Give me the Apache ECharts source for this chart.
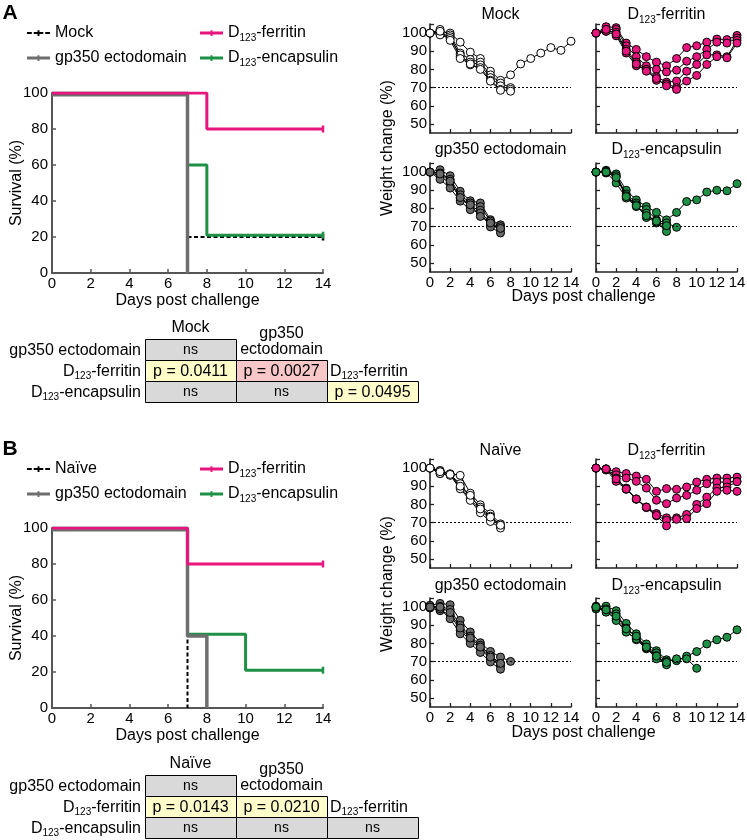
<!DOCTYPE html>
<html><head><meta charset="utf-8">
<script src="https://cdn.jsdelivr.net/npm/echarts@6/dist/echarts.min.js"></script>
<style>html,body{margin:0;padding:0;background:#fff}#c{width:747px;height:840px}</style>
</head><body><div id="c"></div>
<script>
const FONT = '"Liberation Sans", Arial, Helvetica, sans-serif';
const C_PINK = '#E8157F', C_GREEN = '#1F9146', C_GRAY = '#6E6E6E', C_BLACK = '#000';

// ---------- Survival (day, % survival) ----------
const survA_mock = [[0,100],[7,20],[14,20]];
const survA_gp350 = [[0,99],[7,0]];
const survA_ferritin = [[0,100],[8,80],[14,80]];
const survA_encaps = [[0,100],[7,60],[8,21],[14,21]];
const survB_naive = [[0,100],[7,0]];
const survB_gp350 = [[0,99],[7,40],[8,0]];
const survB_ferritin = [[0,100],[7,80],[14,80]];
const survB_encaps = [[0,100],[7,41],[10,21],[14,21]];

// ---------- Weight change (%), one array per mouse, index = day ----------
const wA_mock = [
 [100,101,100,95,89.5,86,79,74,77,83,86,89,92,90.5,95.5],
 [100,102,99,89,85.5,84,77,72.5,70],
 [100,100,98,87,84,82.5,75.5,71,69],
 [100,99,97,88,82.5,81,74,69,68],
 [100,101,96,86,83,80,73.5,68.5]
];
const wA_ferritin = [
 [100,103.5,103,94.5,91,87,84,82,86,92,93,95,96.7,96.4,98.7],
 [100,102,102,93,87,82,80,78.6,79.6,84.5,87,91,95,94.5,97.3],
 [100,101,100.5,91,84,80,76,73,73.6,79,82.7,88,88,87,96],
 [100,101,98.5,89,82,80,74,72,70,73.6,76.7,82.7,87,86.4,94.5],
 [100,102,99.5,90,83,79,75,71,69]
];
const wA_gp350 = [
 [100,101.3,98,89.4,84.2,83,73.8,71],
 [100,99.5,96,87.5,83,81,73,70],
 [100,97.6,94,85.7,81,79,71,68.3],
 [100,96,91.2,84,79.3,77.5,69.8,66.5],
 [100,99,95,86,82,75.6,72,69]
];
const wA_encaps = [
 [100,101,99,90,84.7,81,77.8,73.7,77.8,83.8,84.7,89,90,89.7,93.6],
 [100,99.5,97.6,88,83,79.4,73.7,72,69.6],
 [100,100,94,85.7,81,77.4,72,69.6],
 [100,100.5,98,87,82,75,72.5,67.3],
 [100,100,97,86.5,81.5,76,73,70.5]
];
const wB_naive = [
 [100,98.7,96.9,96,86.2,79.8,74.8,69.3],
 [100,98.5,96.5,91.4,84,78.5,73.5,68.5],
 [100,97,96.3,89.5,83,76.7,72,68],
 [100,97,96,88.6,82.2,75.4,70.6,67],
 [100,98,96.5,90,85,77.5,73,68.5]
];
const wB_ferritin = [
 [100,99.6,98,97,95.6,93.8,87.2,88.7,88.3,89.6,92.3,93.8,94.5,94.5,95],
 [100,99,96.3,94.5,92.7,89,82.3,80.4,83.5,85,87.8,91.4,92.3,92.3,92.7],
 [100,99.5,94.5,89,83,78.6,75,72.6,72.6,74.5,80,84,89,89.6,92.5],
 [100,99,92.7,88.3,82.8,78.2,73.7,71.3,71.8,72.2,77.7,80.4,87.2,87.8,87.2],
 [100,99.5,94,88.5,83,78.5,74,68.2]
];
const wB_gp350 = [
 [101,102,101.3,92.7,86.3,80.4,75.6,72.5,70.1],
 [100,100.4,98.7,90,84,79,73.4,68.9],
 [99.5,98,95.8,87.2,81.7,77,71.6,67.6],
 [100,99,93.6,85.3,80,75,69.8,65.8],
 [100,100,97,88.5,83,78,72.5,69]
];
const wB_encaps = [
 [100.5,100.5,98,91,85.3,79.7,76,71,70.5,73,75.5,79.7,82,83.4,87.5],
 [99,98.2,96.3,88.4,83.4,77.9,74.8,70,71.5,71.5,66.3],
 [100,97.2,93.5,87,82,77,73.3,68.2],
 [100,99,92.6,86.2,82.5,77.5,71.5,70],
 [100,98.5,95,88,84,78,73,69.5]
];

// ---------- Tables ----------
const tableA_cols = ['Mock', 'gp350\nectodomain', 'D{sub|123}-ferritin'];
const tableA_rows = ['gp350 ectodomain', 'D{sub|123}-ferritin', 'D{sub|123}-encapsulin'];
const tableA_cells = [['ns', null, null], ['p = 0.0411', 'p = 0.0027', null], ['ns', 'ns', 'p = 0.0495']];
const tableB_cols = ['Naïve', 'gp350\nectodomain', 'D{sub|123}-ferritin'];
const tableB_rows = ['gp350 ectodomain', 'D{sub|123}-ferritin', 'D{sub|123}-encapsulin'];
const tableB_cells = [['ns', null, null], ['p = 0.0143', 'p = 0.0210', null], ['ns', 'ns', 'ns']];

const RICH = { sub: { fontSize: 10, fontFamily: FONT, verticalAlign: 'bottom', lineHeight: 10, fill: '#000', color: '#000' } };
const sub = s => s.replace('D123', 'D{sub|123}');

const ICON_SOLID = 'path://M0,2.5H24V5.5H0Z M11,1H13V7H11Z';
const ICON_DASH = 'path://M0,3H5V5H0Z M7,3H11V5H7Z M11,1H13V7H11Z M13,3H17V5H13Z M19,3H24V5H19Z';

const grids = [], xAxes = [], yAxes = [], series = [];
function addSurvGrid(top) {
  const gi = grids.length;
  grids.push({left: 52, top: top, width: 271, height: 180, outerBoundsMode: 'none'});
  xAxes.push({gridIndex: gi, type: 'value', min: 0, max: 14, interval: 2,
    axisLine: {onZero: false, lineStyle: {color: '#555', width: 2}},
    axisTick: {inside: true, length: 4, lineStyle: {color: '#555', width: 1.5}},
    axisLabel: {fontSize: 15, fontFamily: FONT, color: '#000', margin: 3},
    splitLine: {show: false},
    name: 'Days post challenge', nameLocation: 'middle', nameGap: 20, nameMoveOverlap: false,
    nameTextStyle: {fontSize: 16, fontFamily: FONT, color: '#000', verticalAlign: 'top'}});
  yAxes.push({gridIndex: gi, type: 'value', min: 0, max: 100, interval: 20,
    axisLine: {onZero: false, lineStyle: {color: '#555', width: 2}},
    axisTick: {inside: true, length: 4, lineStyle: {color: '#555', width: 1.5}},
    axisLabel: {fontSize: 15, fontFamily: FONT, color: '#000', margin: 4},
    splitLine: {show: false},
    name: 'Survival (%)', nameLocation: 'middle', nameGap: 27, nameMoveOverlap: false,
    nameTextStyle: {fontSize: 16, fontFamily: FONT, color: '#000'}});
  return gi;
}
function addWeightGrid(left, top, showX, showY) {
  const gi = grids.length;
  grids.push({left: left, top: top, width: 141, height: 109, outerBoundsMode: 'none'});
  xAxes.push({gridIndex: gi, type: 'value', min: 0, max: 14, interval: 2,
    axisLine: {onZero: false, lineStyle: {color: '#222', width: 1.6}},
    axisTick: {inside: true, length: 4, lineStyle: {color: '#222', width: 1.3}},
    axisLabel: {show: showX, fontSize: 15, fontFamily: FONT, color: '#000', margin: 3},
    splitLine: {show: false}});
  yAxes.push({gridIndex: gi, type: 'value', min: 45, max: 105, interval: 5,
    axisLine: {onZero: false, lineStyle: {color: '#222', width: 1.6}},
    axisTick: {inside: true, length: 4, lineStyle: {color: '#222', width: 1.3},
      customValues: [50, 60, 70, 80, 90, 100, 105]},
    axisLabel: {show: showY, fontSize: 15, fontFamily: FONT, color: '#000', margin: 3,
      customValues: [50, 60, 70, 80, 90, 100]},
    splitLine: {show: false}});
  return gi;
}
function survSeries(gi, name, data, color, width, dashed, z) {
  series.push({type: 'line', name: name, xAxisIndex: gi, yAxisIndex: gi, step: 'end',
    data: data.map((p, i) => (i === data.length - 1 && p[1] > 0)
      ? {value: p, symbol: 'rect', symbolSize: [2.5, 7]} : {value: p, symbol: 'none'}),
    showSymbol: true, symbol: 'none',
    lineStyle: {color: color, width: width, type: dashed ? [4, 2.5] : 'solid', cap: 'butt'},
    itemStyle: {color: color, borderWidth: 0},
    color: color, z: z, animation: false, silent: true});
}
function weightSeries(gi, tag, mice, fill) {
  mice.forEach((m, k) => {
    series.push({type: 'line', name: tag + k, xAxisIndex: gi, yAxisIndex: gi,
      data: m.map((v, d) => [d, v]),
      symbol: 'circle', symbolSize: 8, showSymbol: true,
      lineStyle: {color: '#000', width: 1},
      itemStyle: {color: fill, borderColor: '#000', borderWidth: 1},
      markLine: k === 0 ? {silent: true, symbol: 'none', label: {show: false},
        lineStyle: {type: [2, 2], color: '#000', width: 1}, data: [{yAxis: 70}]} : undefined,
      z: 3 + k, animation: false, silent: true});
  });
}

function panel(dy, lbls, sv, wt) {
  const gs = addSurvGrid(93 + dy);
  survSeries(gs, lbls[0], sv[0], C_BLACK, 2, true, 2);
  survSeries(gs, 'D123-encapsulin', sv[3], C_GREEN, 3, false, 3);
  survSeries(gs, 'gp350 ectodomain', sv[1], C_GRAY, 3.5, false, 4);
  survSeries(gs, 'D123-ferritin', sv[2], C_PINK, 3, false, 5);
  const g1 = addWeightGrid(430, 24 + dy, false, true);
  const g2 = addWeightGrid(596, 24 + dy, false, false);
  const g3 = addWeightGrid(430, 163 + dy, true, true);
  const g4 = addWeightGrid(596, 163 + dy, true, false);
  weightSeries(g1, lbls[0] + 'w', wt[0], '#fff');
  weightSeries(g2, 'ferw', wt[1], C_PINK);
  weightSeries(g3, 'gpw', wt[2], '#6A6A6A');
  weightSeries(g4, 'encw', wt[3], C_GREEN);
}
panel(0, ['Mock'], [survA_mock, survA_gp350, survA_ferritin, survA_encaps], [wA_mock, wA_ferritin, wA_gp350, wA_encaps]);
panel(435, ['Naïve'], [survB_naive, survB_gp350, survB_ferritin, survB_encaps], [wB_naive, wB_ferritin, wB_gp350, wB_encaps]);

function legendPair(left, top, names, icons) {
  return {data: names.map((n, i) => ({name: n, icon: icons[i]})), orient: 'vertical', left: left, top: top,
    itemWidth: 23, itemHeight: 8, itemGap: 5, selectedMode: false, padding: 0,
    itemStyle: {borderWidth: 0},
    formatter: n => sub(n),
    textStyle: {fontSize: 16, fontFamily: FONT, color: '#000', lineHeight: 20, rich: RICH}};
}
const legends = [
  legendPair(27, 23, ['Mock', 'gp350 ectodomain'], [ICON_DASH, ICON_SOLID]),
  legendPair(200, 23, ['D123-ferritin', 'D123-encapsulin'], [ICON_SOLID, ICON_SOLID]),
  legendPair(27, 459, ['Naïve', 'gp350 ectodomain'], [ICON_DASH, ICON_SOLID]),
  legendPair(200, 459, ['D123-ferritin', 'D123-encapsulin'], [ICON_SOLID, ICON_SOLID])
];

// ---------- graphics: labels, titles, tables ----------
const graphic = [];
function txt(x, y, text, opt) {
  opt = opt || {};
  graphic.push({type: 'text', x: x, y: y, rotation: opt.rot || 0, z: 10, silent: true,
    style: {text: text, fill: '#000', fontSize: opt.size || 16, fontFamily: FONT,
      fontWeight: opt.bold ? 'bold' : 'normal', align: opt.align || 'center',
      verticalAlign: 'middle', lineHeight: opt.lh || 20, rich: RICH}});
}
function panelText(dy, letter, t1) {
  txt(10, 13 + dy, letter, {bold: true, size: 21});
  txt(500.5, 15 + dy, t1);
  txt(666.5, 15 + dy, 'D{sub|123}-ferritin');
  txt(500.5, 150 + dy, 'gp350 ectodomain');
  txt(666.5, 150 + dy, 'D{sub|123}-encapsulin');
  txt(388, 148 + dy, 'Weight change (%)', {rot: Math.PI / 2});
  txt(583.5, 297 + dy, 'Days post challenge');
}
panelText(0, 'A', 'Mock');
panelText(436, 'B', 'Naïve');

function cellColor(s) {
  if (s === 'ns') return '#D9D9D9';
  const p = parseFloat(s.split('=')[1]);
  return p < 0.01 ? '#F8C8C8' : '#FFFECB';
}
function table(x0, y0, cols, rows, cells) {
  const cw = 91, rh = 21;
  rows.forEach((r, i) => txt(x0 - 4, y0 + rh * i + rh / 2 + 1, r, {align: 'right'}));
  cells.forEach((row, i) => row.forEach((c, j) => {
    if (c === null) return;
    graphic.push({type: 'rect', z: 5, silent: true,
      shape: {x: x0 + cw * j + 0.5, y: y0 + rh * i + 0.5, width: cw, height: rh},
      style: {fill: cellColor(c), stroke: '#000', lineWidth: 1}});
    txt(x0 + cw * j + cw / 2, y0 + rh * i + rh / 2 + 1, c, {size: c === 'ns' ? 14 : 16});
  }));
  txt(x0 + cw / 2, y0 - 11, cols[0]);
  txt(x0 + cw * 1.5, y0 + 3, cols[1], {lh: 16});
  txt(x0 + cw * 2 + 3, y0 + rh * 1.5 + 1, cols[2], {align: 'left'});
}
table(145, 339, tableA_cols, tableA_rows, tableA_cells);
table(145, 775, tableB_cols, tableB_rows, tableB_cells);

const chart = echarts.init(document.getElementById('c'), null, {renderer: 'canvas'});
chart.setOption({
  animation: false,
  backgroundColor: '#fff',
  grid: grids, xAxis: xAxes, yAxis: yAxes, series: series,
  legend: legends, graphic: graphic
});
</script></body></html>
